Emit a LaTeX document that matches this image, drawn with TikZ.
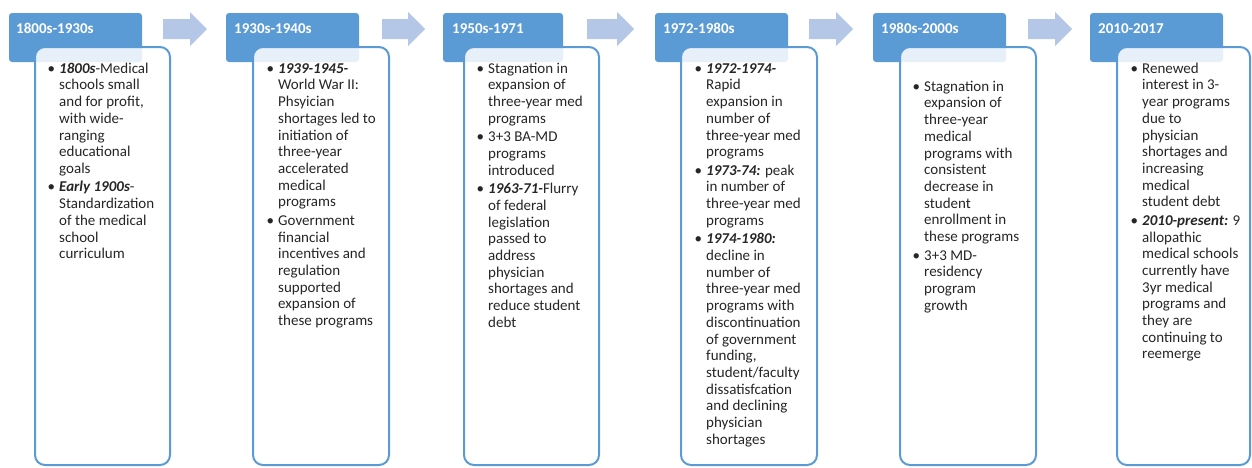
\documentclass[tikz,border=0pt]{standalone}
\usepackage{fontspec}
\setmainfont{Carlito}
\definecolor{hblue}{HTML}{5B9BD5}
\definecolor{ablue}{HTML}{B4C7E7}
\definecolor{txt}{HTML}{262626}
\tikzset{
 hdrbox/.style={fill=hblue, rounded corners=3pt, inner sep=0, outer sep=0, anchor=north west, minimum height=49pt},
 hdrtxt/.style={text=white, font=\fontsize{15}{18}\selectfont\bfseries, anchor=base west, inner sep=0},
 bodybox/.style={draw=hblue, line width=2pt, fill=white, fill opacity=0.86, rounded corners=10pt, inner sep=0, outer sep=0, anchor=north west, minimum height=418pt},
 bodytxt/.style={text=txt, font=\fontsize{15}{16.7}\selectfont, align=left, anchor=north west, inner sep=0},
 blockarrow/.style={fill=ablue},
}
\newcommand\bul{\leavevmode\llap{\textbullet\hspace{4pt}}}
\newcommand\bi[1]{\textbf{\textit{#1}}}
\newcommand\fs{\rule{0pt}{12pt}}
\newcommand\barrow[2]{\fill[blockarrow] (#1,19) -- ({#2-17},19) -- ({#2-17},12) -- (#2,29) -- ({#2-17},46) -- ({#2-17},39) -- (#1,39) -- cycle;}
\begin{document}
\begin{tikzpicture}[x=1pt,y=-1pt]
\useasboundingbox (0,0) rectangle (1252,467);
% arrows
\barrow{163}{207}
\barrow{382}{425}
\barrow{587}{634}
\barrow{809}{853}
\barrow{1028}{1072}
% headers
\node[hdrbox, minimum width=133pt] (h1) at (9,13) {};
\node[hdrbox, minimum width=133pt] (h2) at (226,13) {};
\node[hdrbox, minimum width=120pt] (h3) at (443,13) {};
\node[hdrbox, minimum width=133pt] (h4) at (655,13) {};
\node[hdrbox, minimum width=133pt] (h5) at (873,13) {};
\node[hdrbox, minimum width=133pt] (h6) at (1090,13) {};
\node[hdrtxt] (h1t) at (16,33) {1800s-1930s};
\node[hdrtxt] (h2t) at (234,33) {1930s-1940s};
\node[hdrtxt] (h3t) at (452,33) {1950s-1971};
\node[hdrtxt] (h4t) at (663,33) {1972-1980s};
\node[hdrtxt] (h5t) at (881,33) {1980s-2000s};
\node[hdrtxt] (h6t) at (1098,33) {2010-2017};
% boxes
\node[bodybox, minimum width=135pt] (b1) at (35,47) {};
\node[bodybox, minimum width=136pt] (b2) at (253,47) {};
\node[bodybox, minimum width=135pt] (b3) at (464,47) {};
\node[bodybox, minimum width=136pt] (b4) at (681,47) {};
\node[bodybox, minimum width=136pt] (b5) at (900,47) {};
\node[bodybox, minimum width=133pt] (b6) at (1117,47) {};
% texts
\node[bodytxt] (t1) at (59,61) {\fs\bul\bi{1800s}-Medical\\ schools small\\ and for profit,\\ with wide-\\ ranging\\ educational\\ goals\\[1.8pt]
\bul\bi{Early 1900s}-\\ Standardization\\ of the medical\\ school\\ curriculum};
\node[bodytxt] (t2) at (278,61) {\fs\bul\bi{1939-1945-}\\ World War II:\\ Phsyician\\ shortages led to\\ initiation of\\ three-year\\ accelerated\\ medical\\ programs\\[1.8pt]
\bul Government\\ financial\\ incentives and\\ regulation\\ supported\\ expansion of\\ these programs};
\node[bodytxt] (t3) at (488,61) {\fs\bul Stagnation in\\ expansion of\\ three-year med\\ programs\\[1.8pt]
\bul 3+3 BA-MD\\ programs\\ introduced\\[1.8pt]
\bul\bi{1963-71-}Flurry\\ of federal\\ legislation\\ passed to\\ address\\ physician\\ shortages and\\ reduce student\\ debt};
\node[bodytxt] (t4) at (706,61) {\fs\bul\bi{1972-1974-}\\ Rapid\\ expansion in\\ number of\\ three-year med\\ programs\\[1.8pt]
\bul\bi{1973-74:} peak\\ in number of\\ three-year med\\ programs\\[1.8pt]
\bul\bi{1974-1980:}\\ decline in\\ number of\\ three-year med\\ programs with\\ discontinuation\\ of government\\ funding,\\ student/faculty\\ dissatisfcation\\ and declining\\ physician\\ shortages};
\node[bodytxt] (t5) at (924,79) {\fs\bul Stagnation in\\ expansion of\\ three-year\\ medical\\ programs with\\ consistent\\ decrease in\\ student\\ enrollment in\\ these programs\\[1.8pt]
\bul 3+3 MD-\\ residency\\ program\\ growth};
\node[bodytxt] (t6) at (1142,61) {\fs\bul Renewed\\ interest in 3-\\ year programs\\ due to\\ physician\\ shortages and\\ increasing\\ medical\\ student debt\\[1.8pt]
\bul\bi{2010-present:} 9\\ allopathic\\ medical schools\\ currently have\\ 3yr medical\\ programs and\\ they are\\ continuing to\\ reemerge};
\end{tikzpicture}
\end{document}
